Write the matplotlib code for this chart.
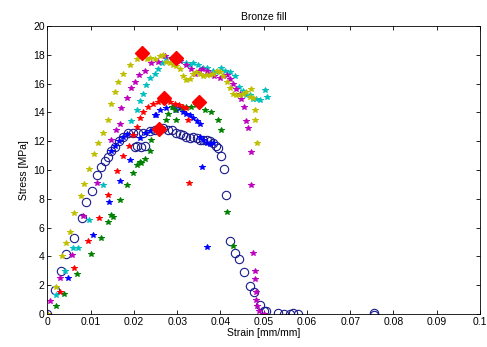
import numpy as np
import matplotlib
matplotlib.use('Agg')
import matplotlib.pyplot as plt

plt.rcParams['font.family'] = ['Liberation Sans', 'DejaVu Sans']

# Yellow specimen
yel_x = [0.0, 0.0019, 0.0033, 0.0043, 0.0052, 0.0061, 0.0077, 0.0085, 0.0097, 0.0108,
         0.0116, 0.0129, 0.0141, 0.0147, 0.0155, 0.0164, 0.0175, 0.0190, 0.0206, 0.0229,
         0.0237, 0.0248, 0.0260, 0.0268, 0.0275, 0.0283, 0.0291, 0.0298, 0.0306, 0.0314,
         0.0321, 0.0329, 0.0337, 0.0344, 0.0352, 0.0360, 0.0368, 0.0376, 0.0383, 0.0391,
         0.0398, 0.0406, 0.0414, 0.0421, 0.0429, 0.0437, 0.0444, 0.0452, 0.0460, 0.0468,
         0.0475, 0.0471, 0.0479, 0.0481, 0.0485]
yel_y = [0.0, 1.9, 4.0, 4.9, 5.7, 7.0, 8.2, 9.0, 10.05, 11.1,
         11.9, 12.6, 13.5, 14.6, 15.4, 16.1, 16.7, 17.3, 17.7, 17.7,
         17.75, 17.7, 17.9, 18.0, 17.5, 17.4, 17.3, 17.2, 17.0, 16.5,
         16.25, 16.3, 16.7, 16.8, 16.7, 16.5, 16.6, 16.6, 16.7, 16.9,
         16.8, 16.5, 16.1, 15.7, 15.3, 15.2, 15.2, 15.3, 15.45, 15.1,
         15.0, 15.6, 14.2, 13.5, 11.9]

# Magenta specimen
mag_x = [0.0, 0.0006, 0.0030, 0.0056, 0.0083, 0.0114, 0.0148, 0.0158, 0.0167, 0.0171,
         0.0184, 0.0192, 0.0202, 0.0211, 0.0225, 0.0239, 0.0256, 0.0271, 0.0287, 0.0306,
         0.0321, 0.0331, 0.0341, 0.0350, 0.0358, 0.0368, 0.0375, 0.0385, 0.0398, 0.0406,
         0.0414, 0.0421, 0.0429, 0.0437, 0.0445, 0.0448, 0.0454, 0.0460, 0.0463, 0.0470,
         0.0471, 0.0475, 0.0479, 0.0481, 0.0483, 0.0483, 0.0485, 0.0490, 0.0500]
mag_y = [0.0, 0.9, 2.5, 4.1, 6.8, 9.1, 12.1, 12.8, 13.2, 14.3,
         15.0, 15.7, 16.1, 16.6, 16.9, 17.4, 17.5, 17.9, 17.8, 17.6,
         17.3, 17.0, 16.7, 16.9, 17.0, 16.9, 16.7, 16.5, 16.4, 16.5,
         16.6, 16.3, 16.0, 15.6, 15.3, 14.9, 14.35, 13.4, 12.9, 11.25,
         8.96, 4.26, 3.0, 2.4, 1.5, 1.0, 0.55, 0.2, 0.0]

# Cyan specimen
cya_x = [0.0, 0.0020, 0.0040, 0.0060, 0.0071, 0.0097, 0.0129, 0.0194, 0.0206, 0.0214,
         0.0221, 0.0227, 0.0237, 0.0248, 0.0256, 0.0264, 0.0275, 0.0290, 0.0306, 0.0321,
         0.0329, 0.0337, 0.0348, 0.0360, 0.0368, 0.0383, 0.0390, 0.0402, 0.0410, 0.0421,
         0.0433, 0.0444, 0.0452, 0.0460, 0.0468, 0.0475, 0.0483, 0.0491, 0.0502, 0.0508]
cya_y = [0.0, 1.3, 3.0, 4.56, 4.6, 6.5, 8.96, 13.4, 14.2, 14.8,
         15.3, 15.9, 16.4, 16.7, 17.0, 17.4, 17.8, 17.8, 17.6, 17.4,
         17.3, 17.4, 17.3, 17.1, 17.1, 16.9, 16.8, 17.1, 16.9, 16.8,
         16.5, 15.8, 15.5, 15.2, 15.2, 14.9, 14.9, 14.85, 15.55, 15.1]

# Red specimen
red_x = [0.0, 0.0030, 0.0061, 0.0093, 0.0120, 0.0140, 0.0161, 0.0175, 0.0189, 0.0198,
         0.0206, 0.0214, 0.0221, 0.0233, 0.0244, 0.0256, 0.0283, 0.0294, 0.0305, 0.0313,
         0.0321, 0.0325, 0.0327]
red_y = [0.0, 1.5, 3.2, 5.1, 6.65, 8.3, 9.9, 11.0, 11.7, 12.4,
         13.0, 13.6, 14.05, 14.4, 14.6, 14.7, 14.7, 14.6, 14.5, 14.4,
         14.3, 13.5, 9.1]

# Green specimen
grn_x = [0.0, 0.0019, 0.0039, 0.0068, 0.0100, 0.0123, 0.0140, 0.0148, 0.0152, 0.0167,
         0.0184, 0.0197, 0.0206, 0.0213, 0.0217, 0.0225, 0.0237, 0.0240, 0.0248, 0.0263,
         0.0275, 0.0279, 0.0287, 0.0294, 0.0298, 0.0310, 0.0321, 0.0333, 0.0343, 0.0364,
         0.0379, 0.0395, 0.0402, 0.0414, 0.0428]
grn_y = [0.0, 0.58, 1.4, 2.8, 4.2, 5.3, 6.4, 6.9, 6.75, 7.9,
         8.96, 9.8, 10.35, 10.55, 10.5, 10.8, 11.3, 12.1, 12.8, 13.0,
         13.5, 13.9, 14.4, 14.2, 13.5, 14.3, 14.4, 14.4, 14.5, 14.2,
         14.05, 13.5, 12.8, 7.1, 4.7]

# Blue specimen (star markers)
blu_x = [0.0, 0.0048, 0.0106, 0.0142, 0.0148, 0.0157, 0.0165, 0.0167, 0.0175, 0.0183,
         0.0190, 0.0215, 0.0225, 0.0237, 0.0248, 0.0252, 0.0260, 0.0275, 0.0290, 0.0298,
         0.0306, 0.0313, 0.0321, 0.0329, 0.0337, 0.0345, 0.0352, 0.0352, 0.0360, 0.0368,
         0.0376, 0.0383, 0.0357, 0.0368]
blu_y = [0.0, 2.5, 5.5, 7.8, 11.3, 11.7, 12.0, 9.25, 12.3, 12.5,
         10.7, 12.2, 12.6, 12.7, 13.8, 13.8, 14.2, 14.3, 14.4, 14.2,
         14.3, 14.0, 13.9, 13.8, 13.6, 13.4, 13.2, 12.3, 12.1, 11.9,
         11.8, 11.85, 10.2, 4.67]

# Blue specimen (open circles)
cir_x = [0.0, 0.0017, 0.0031, 0.0043, 0.0061, 0.0079, 0.0090, 0.0102, 0.0115, 0.0123,
         0.0133, 0.0140, 0.0148, 0.0157, 0.0165, 0.0175, 0.0187, 0.0198, 0.0209, 0.0221,
         0.0202, 0.0217, 0.0206, 0.0225, 0.0237, 0.0248, 0.0268, 0.0278, 0.0287, 0.0298,
         0.0306, 0.0314, 0.0321, 0.0329, 0.0337, 0.0345, 0.0352, 0.0360, 0.0368, 0.0376,
         0.0383, 0.0390, 0.0395, 0.0402, 0.0408, 0.0412, 0.0421, 0.0433, 0.0443, 0.0454,
         0.0468, 0.0478, 0.0491, 0.0500, 0.0506, 0.0533, 0.0548, 0.0560, 0.0568, 0.0579,
         0.0756, 0.0756]
cir_y = [0.0, 1.67, 3.0, 4.15, 5.3, 6.7, 7.8, 8.55, 9.65, 10.2,
         10.6, 10.9, 11.3, 11.6, 12.0, 12.3, 12.55, 12.6, 12.6, 12.55,
         11.6, 11.6, 11.7, 11.7, 12.7, 12.8, 12.9, 12.8, 12.8, 12.55,
         12.5, 12.4, 12.3, 12.2, 12.3, 12.2, 12.1, 12.1, 12.1, 12.0,
         11.85, 11.7, 11.55, 11.0, 10.05, 8.26, 5.1, 4.26, 3.8, 2.9,
         1.94, 1.5, 0.63, 0.23, 0.2, 0.05, 0.0, 0.0, 0.1, 0.0,
         0.05, -0.05]

# Peak points
peak_x = [0.0218, 0.0298, 0.0269, 0.0351, 0.0258]
peak_y = [18.1, 17.8, 15.0, 14.7, 12.85]

fig = plt.figure(figsize=(4.87, 3.47), dpi=100)
ax = fig.add_axes([0.0975, 0.095, 0.888, 0.83])

star = dict(linestyle='none', marker='*', markersize=3.8, markeredgewidth=0.7)
ax.plot(cir_x, cir_y, linestyle='none', marker='o', markersize=6, markerfacecolor='none',
        markeredgecolor=(0.1, 0.1, 0.55), markeredgewidth=0.8)
ax.plot(blu_x, blu_y, color=(0, 0, 1), **star)
ax.plot(grn_x, grn_y, color=(0, 0.5, 0), **star)
ax.plot(red_x, red_y, color=(1, 0, 0), **star)
ax.plot(cya_x, cya_y, color=(0, 0.75, 0.75), **star)
ax.plot(mag_x, mag_y, color=(0.75, 0, 0.75), **star)
ax.plot(yel_x, yel_y, color=(0.75, 0.75, 0), **star)
ax.plot(peak_x, peak_y, linestyle='none', marker='D', markersize=7, color=(1, 0, 0))

ax.set_xlim(0, 0.1)
ax.set_ylim(0, 20)
ax.set_xticks(np.arange(0, 0.1001, 0.01))
ax.set_xticklabels(['0', '0.01', '0.02', '0.03', '0.04', '0.05', '0.06', '0.07', '0.08', '0.09', '0.1'])
ax.set_yticks(np.arange(0, 21, 2))
ax.tick_params(direction='in', top=True, right=True, labelsize=7.5, length=3, width=0.6, pad=2)
for s in ax.spines.values():
    s.set_linewidth(0.6)

ax.set_title('Bronze fill', fontsize=7.5, pad=4)
ax.set_xlabel('Strain [mm/mm]', fontsize=7.5, labelpad=1)
ax.set_ylabel('Stress [MPa]', fontsize=7.5, labelpad=3)

fig.savefig('out.png', dpi=100)
